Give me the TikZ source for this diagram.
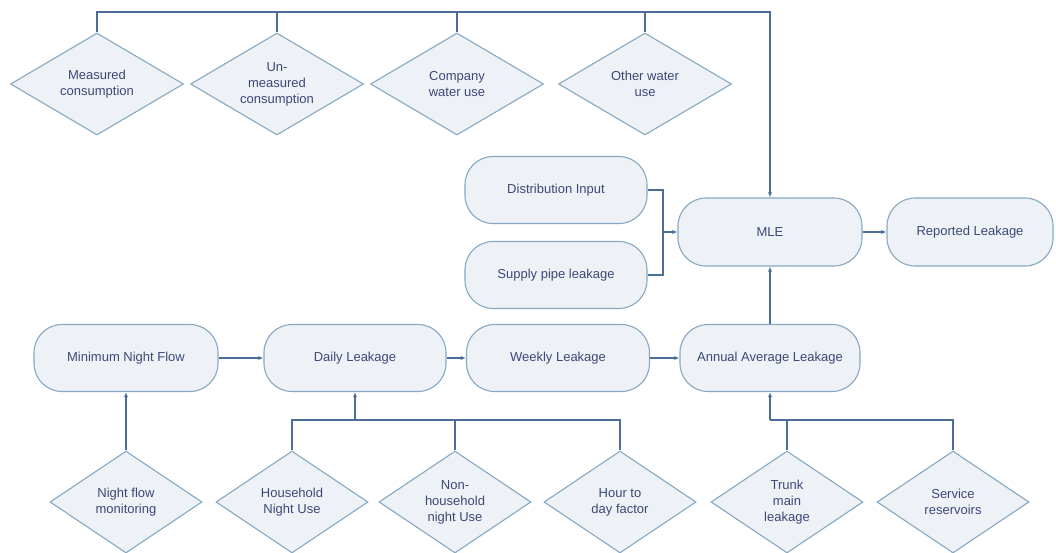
\documentclass[tikz,border=0pt]{standalone}
\usepackage{fontspec}
\setmainfont{Liberation Sans}
\usetikzlibrary{shapes.geometric,arrows.meta}
\definecolor{boxfill}{HTML}{EEF1F5}
\definecolor{boxline}{HTML}{86A8C2}
\definecolor{connc}{HTML}{4A6E98}
\definecolor{txtc}{HTML}{3E4878}
\tikzset{
  base/.style={fill=boxfill, draw=boxline, line width=1.1pt, text=txtc,
    font=\fontsize{13}{16}\selectfont, align=center, inner sep=0pt},
  pill/.style={base, rectangle, rounded corners=28pt, minimum height=67pt},
  dia/.style={base, diamond, aspect=1.7},
  topdia/.style={dia, minimum width=173pt, minimum height=102pt},
  botdia/.style={dia, minimum width=152pt, minimum height=102pt},
  conn/.style={draw=connc, line width=1.3pt},
  arr/.style={conn, -{Latex[length=5pt,width=4pt]}}
}
\begin{document}
\begin{tikzpicture}[x=1pt,y=-1pt]
\useasboundingbox (0,0) rectangle (1056,552);
% top row diamonds
\node[topdia] (m1) at (97,84) {Measured\\consumption};
\node[topdia] (m2) at (277,84) {Un-\\measured\\consumption};
\node[topdia] (m3) at (457,84) {Company\\water use};
\node[topdia] (m4) at (645,84) {Other water\\use};
% middle pills
\node[pill, minimum width=182pt] (di) at (556,190) {Distribution Input};
\node[pill, minimum width=182pt] (sp) at (556,275) {Supply pipe leakage};
\node[pill, minimum width=184pt, minimum height=68pt] (mle) at (770,232) {MLE};
\node[pill, minimum width=166pt, minimum height=68pt] (rep) at (970,232) {Reported Leakage};
% lower pills
\node[pill, minimum width=184pt] (mnf) at (126,358) {Minimum Night Flow};
\node[pill, minimum width=182pt] (dl) at (355,358) {Daily Leakage};
\node[pill, minimum width=183pt] (wl) at (558,358) {Weekly Leakage};
\node[pill, minimum width=180pt] (aal) at (770,358) {Annual Average Leakage};
% bottom diamonds
\node[botdia] (nfm) at (126,502) {Night flow\\monitoring};
\node[botdia] (hnu) at (292,502) {Household\\Night Use};
\node[botdia] (nhn) at (455,502) {Non-\\household\\night Use};
\node[botdia] (hdf) at (620,502) {Hour to\\day factor};
\node[botdia] (tml) at (787,502) {Trunk\\main\\leakage};
\node[botdia] (sr) at (953,502) {Service\\reservoirs};
% junction coordinates
\coordinate (tc) at (770,12);
\coordinate (jm) at (663,232);
\coordinate (b1) at (355,420);
\coordinate (b2) at (770,420);
% top bus
\draw[arr] (m1.north) |- (tc) -- (mle.north);
\draw[conn] (m2.north) -- (m2.north |- tc);
\draw[conn] (m3.north) -- (m3.north |- tc);
\draw[conn] (m4.north) -- (m4.north |- tc);
% distribution / supply into MLE
\draw[conn] (di.east) -| (jm);
\draw[conn] (sp.east) -| (jm);
\draw[arr] (jm) -- (mle.west);
\draw[arr] (mle.east) -- (rep.west);
% chain
\draw[arr] (mnf.east) -- (dl.west);
\draw[arr] (dl.east) -- (wl.west);
\draw[arr] (wl.east) -- (aal.west);
\draw[arr] (aal.north) -- (mle.south);
% bottom inputs
\draw[arr] (nfm.north) -- (mnf.south);
\draw[conn] (hnu.north) |- (b1) -| (hdf.north);
\draw[conn] (nhn.north) -- (nhn.north |- b1);
\draw[arr] (b1) -- (dl.south);
\draw[conn] (sr.north) |- (b2);
\draw[conn] (tml.north) -- (tml.north |- b2);
\draw[arr] (b2) -- (aal.south);
\end{tikzpicture}
\end{document}
